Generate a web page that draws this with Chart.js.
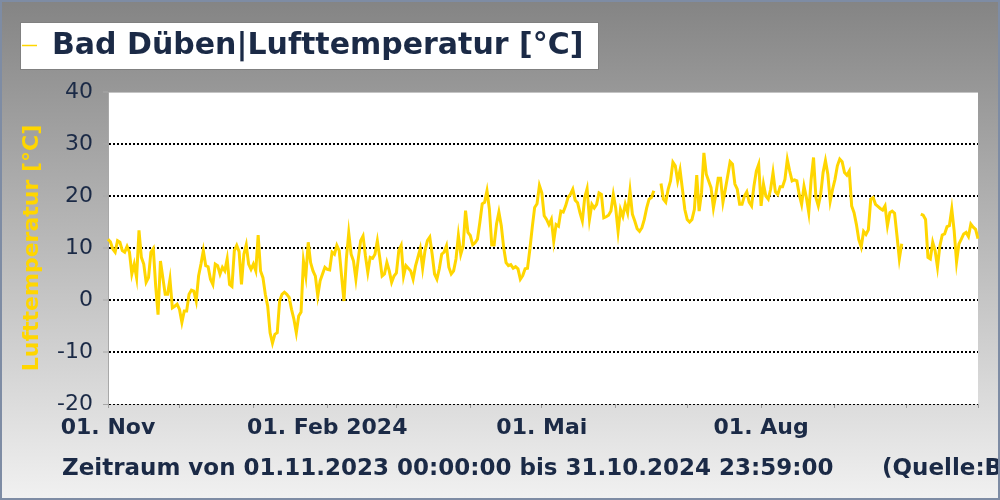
<!DOCTYPE html>
<html>
<head>
<meta charset="utf-8">
<script src="https://cdn.jsdelivr.net/npm/chart.js@4.4.1/dist/chart.umd.min.js"></script>
<style>
  html, body { margin: 0; padding: 0; background: #fff; }
  canvas { display: block; }
</style>
</head>
<body>
<canvas id="chart" width="1000" height="500"></canvas>
<script>
// Tagesmittel Lufttemperatur Bad Düben, 01.11.2023 - 31.10.2024 (null = keine Daten)
const tempNov = [11.7, 11.2, 9.8, 9.2, 11.4, 11.1, 9.5, 9.2, 10.3, 9.2, 5.0, 6.9, 4.3, 13.4, 8.2,
  6.9, 3.4, 4.3, 9.2, 9.9, 2.7, -2.8, 7.5, 4.3, 1.1, 1.1, 4.0, -1.5, -1.2, -0.8];
const tempDec = [-1.8, -4.3, -2.1, -2.1, 1.1, 1.9, 1.7, -0.2, 4.6, 6.9, 9.5, 6.6, 6.4, 4.0, 3.0, 6.9,
  6.6, 5.0, 6.3, 5.6, 7.9, 3.0, 2.6, 9.5, 10.5, 9.3, 3.0, 8.8, 10.6, 6.9, 5.9];
const tempJan = [6.9, 5.6, 12.5, 5.6, 4.3, 1.1, -1.2, -6.3, -8.3, -6.6, -6.3, -0.2, 1.1, 1.5, 1.1, 0.5,
  -1.8, -3.7, -6.3, -3.1, -2.3, 7.5, 4.6, 11.1, 7.2, 5.6, 4.6, 0.8, 3.7, 5.0, 6.3];
const tempFeb = [5.9, 5.8, 9.2, 8.8, 10.5, 9.5, 4.6, -0.2, 7.9, 12.9, 8.8, 7.5, 4.0, 7.9, 11.4, 12.3,
  8.5, 5.3, 8.2, 8.0, 8.8, 11.4, 8.2, 4.6, 5.0, 7.2, 5.6, 3.4, 4.6];
const tempMar = [5.2, 9.5, 10.5, 4.6, 6.6, 6.1, 5.6, 4.0, 6.5, 8.2, 9.9, 6.1, 9.5, 11.4, 12.1, 8.8, 5.0,
  4.0, 6.0, 8.8, 9.2, 10.4, 6.3, 5.0, 5.6, 7.9, 12.4, 8.8, 10.4, 17.2, 13.0];
const tempApr = [12.4, 10.6, 11.0, 11.7, 14.9, 18.5, 18.8, 21.0, 17.5, 10.6, 10.6, 14.6, 16.9, 14.3, 10.1,
  7.2, 6.6, 6.8, 6.1, 6.4, 6.0, 4.0, 4.7, 6.0, 6.1, 9.8, 14.0, 17.8, 18.5, 22.0];
const tempMay = [20.6, 16.2, 15.5, 14.5, 15.5, 11.3, 14.5, 14.2, 17.1, 16.9, 18.1, 19.7, 20.3, 21.3, 19.2,
  18.7, 16.8, 15.2, 19.7, 21.4, 15.5, 18.4, 17.7, 18.4, 20.6, 20.3, 15.8, 16.0, 16.3, 17.1, 20.3];
const tempJun = [17.7, 13.2, 17.4, 16.1, 18.4, 16.8, 21.0, 16.5, 15.2, 13.7, 13.2, 13.9, 15.5, 17.7, 19.4,
  19.7, 21.0, null, null, 22.4, 19.4, 18.8, 21.3, 22.9, 26.5, 25.8, 22.9, 25.0, 21.3, 17.4];
const tempJul = [15.5, 15.0, 15.5, 17.4, 24.0, 17.1, 20.6, 28.3, 24.2, 22.9, 21.6, 17.7, 20.3, 23.4, 23.4,
  18.8, 21.3, 23.9, 26.6, 26.1, 22.3, 21.3, 18.4, 18.4, 20.0, 20.8, 18.8, 18.1, 21.9, 24.8, 26.1];
const tempAug = [18.1, 22.3, 20.0, 19.4, 21.3, 24.5, 20.8, 20.3, 21.8, 21.8, 23.2, 27.0, 24.8, 22.9, 23.1,
  22.9, 20.3, 18.4, 21.9, 19.7, 16.8, 23.2, 27.4, 19.7, 18.1, 20.3, 24.5, 26.8, 24.2, 19.0, 21.3];
const tempSep = [23.2, 25.8, 27.1, 26.6, 24.5, 24.0, 24.8, 18.1, 16.8, 14.5, 11.6, 10.2, 13.2, 12.6, 13.5,
  19.4, 19.7, 18.4, 18.0, 17.6, 17.3, 18.1, 14.3, 16.8, 17.1, 16.7, 12.4, 7.9, 10.8, null];
const tempOct = [null, null, null, null, null, null, 16.5, 16.3, 15.5, 8.2, 7.9, 11.1, 9.5, 6.3, 10.4,
  12.5, 12.7, 14.1, 14.3, 17.5, 13.3, 7.3, 10.8, 11.7, 12.7, 13.0, 12.2, 14.6, 14.0, 13.6, 11.8];

const temps = [].concat(tempNov, tempDec, tempJan, tempFeb, tempMar, tempApr,
  tempMay, tempJun, tempJul, tempAug, tempSep, tempOct);

// Kategorien: ein Tag pro Punkt
const days = [];
const start = Date.UTC(2023, 10, 1);
for (let i = 0; i < temps.length; i++) {
  const d = new Date(start + i * 86400000);
  days.push(String(d.getUTCDate()).padStart(2, '0') + '.' +
    String(d.getUTCMonth() + 1).padStart(2, '0') + '.' + d.getUTCFullYear());
}

// Achsenbeschriftung
const tickDates = ['01.11.2023', '01.02.2024', '01.05.2024', '01.08.2024'];
const tickTexts = ['01. Nov', '01. Feb 2024', '01. Mai', '01. Aug'];

const titleText = 'Bad Düben|Lufttemperatur [°C]';
const axisTitle = 'Lufttemperatur [°C]';
const footText = 'Zeitraum von 01.11.2023 00:00:00 bis 31.10.2024 23:59:00';
const sourceText = '(Quelle:BfUL)';

const navy = '#1b2a46';
const yellow = '#ffd600';

function isMonthTick(i) {
  return days[i].startsWith('01.') || i === days.length - 1;
}

const backdrop = {
  id: 'backdrop',
  beforeDraw(chart) {
    const { ctx, chartArea: a, width, height } = chart;
    ctx.save();
    const g = ctx.createLinearGradient(0, 0, 0, height);
    g.addColorStop(0, '#848484');
    g.addColorStop(1, '#f1f1f1');
    ctx.fillStyle = g;
    ctx.fillRect(0, 0, width, height);
    ctx.fillStyle = '#ffffff';
    ctx.fillRect(a.left, a.top, a.right - a.left, a.bottom - a.top);
    // feine Linie am oberen Rand der Zeichenfläche
    ctx.strokeStyle = '#c4c4c4';
    ctx.lineWidth = 1;
    ctx.beginPath();
    ctx.moveTo(a.left, a.top + 0.5);
    ctx.lineTo(a.right, a.top + 0.5);
    ctx.stroke();
    ctx.restore();
  },
  afterDraw(chart) {
    const { ctx, width, height } = chart;
    ctx.save();
    // Legendenkasten oben
    ctx.fillStyle = '#ffffff';
    ctx.fillRect(20, 22, 578, 47);
    ctx.strokeStyle = '#808080';
    ctx.lineWidth = 1;
    ctx.strokeRect(20.5, 22.5, 578, 47);
    ctx.strokeStyle = yellow;
    ctx.lineWidth = 1.5;
    ctx.beginPath();
    ctx.moveTo(22, 45.5);
    ctx.lineTo(37, 45.5);
    ctx.stroke();
    ctx.fillStyle = navy;
    ctx.font = 'bold 30px "DejaVu Sans"';
    ctx.textBaseline = 'middle';
    ctx.textAlign = 'left';
    ctx.fillText(titleText, 52, 46);

    // Zeitraum unten
    ctx.font = 'bold 23px "DejaVu Sans"';
    ctx.textBaseline = 'alphabetic';
    ctx.fillText(footText, 62, 475);
    ctx.fillText(sourceText, 882, 475);

    // Rahmen
    ctx.strokeStyle = '#7e8ca4';
    ctx.lineWidth = 2;
    ctx.strokeRect(1, 1, width - 2, height - 2);
    ctx.restore();
  }
};

new Chart(document.getElementById('chart'), {
  type: 'line',
  data: {
    labels: days,
    datasets: [{
      label: titleText,
      data: temps,
      borderColor: yellow,
      borderWidth: 3,
      pointRadius: 0,
      tension: 0,
      spanGaps: false,
      fill: false
    }]
  },
  options: {
    responsive: false,
    animation: false,
    layout: { padding: { top: 92, right: 22, bottom: 0, left: 0 } },
    plugins: {
      legend: { display: false },
      tooltip: { enabled: false },
      title: { display: false }
    },
    scales: {
      x: {
        type: 'category',
        offset: false,
        afterFit: scale => { scale.height = 96; },
        border: { display: false },
        grid: {
          drawOnChartArea: false,
          tickLength: 4,
          tickColor: ctx => isMonthTick(ctx.index) ? '#a0a0a0' : 'transparent',
          lineWidth: 1
        },
        ticks: {
          autoSkip: false,
          maxRotation: 0,
          minRotation: 0,
          padding: 7,
          color: navy,
          font: { family: 'DejaVu Sans', size: 22, weight: 'bold' },
          callback: function (value) {
            const k = tickDates.indexOf(this.getLabelForValue(value));
            return k >= 0 ? tickTexts[k] : '';
          }
        }
      },
      y: {
        min: -20,
        max: 40,
        afterFit: scale => { scale.width = 108; },
        border: { display: true, color: '#a8a8a8', width: 1, dash: [2, 2] },
        grid: {
          color: ctx => (ctx.tick && ctx.tick.value % 10 === 0 && ctx.tick.value !== 40) ? '#000000' : 'transparent',
          lineWidth: ctx => (ctx.tick && ctx.tick.value === -20) ? 1 : 2,
          tickLength: 5,
          tickColor: '#a8a8a8',
          tickWidth: 1,
          tickBorderDash: []
        },
        ticks: {
          stepSize: 5,
          padding: 10,
          color: navy,
          font: { family: 'DejaVu Sans', size: 22 },
          callback: v => v % 10 === 0 ? String(v) : ''
        },
        title: {
          display: true,
          text: axisTitle,
          color: yellow,
          font: { family: 'DejaVu Sans', size: 22, weight: 'bold' },
          padding: { top: 19, bottom: 0 }
        }
      }
    }
  },
  plugins: [backdrop]
});
</script>
</body>
</html>
